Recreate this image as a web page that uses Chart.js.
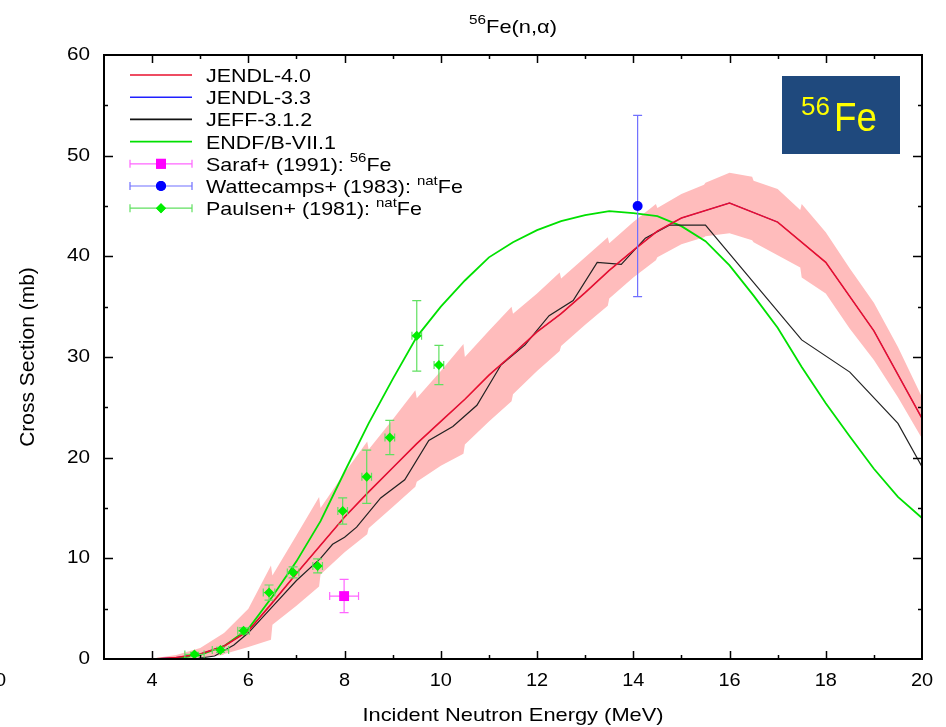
<!DOCTYPE html>
<html>
<head>
<meta charset="utf-8">
<script src="https://cdn.jsdelivr.net/npm/chart.js@4.4.1/dist/chart.umd.min.js"></script>
<style>
  html, body { margin: 0; padding: 0; background: #fff; }
  #wrap { width: 946px; height: 727px; }
</style>
</head>
<body>
<div id="wrap"><canvas id="chart" width="946" height="727"></canvas></div>
<script>
// ---- axis ticks ----
const xTicks = [4, 6, 8, 10, 12, 14, 16, 18, 20];
const yTicks = [0, 10, 20, 30, 40, 50, 60];

// ---- evaluated curves (MeV, mb) ----
const jendl40E = [4.0, 4.5, 5.0, 5.5, 6.0, 6.5, 7.0, 7.5, 8.0, 8.5, 9.0, 9.5, 10.0, 10.5, 11.0, 11.5, 12.0, 12.5, 13.0, 13.5, 14.0, 14.5, 15.0, 16.0, 17.0, 18.0, 19.0, 20.0];
const jendl40 = [0.0, 0.15, 0.5, 1.3, 2.8, 5.6, 8.5, 11.3, 14.1, 16.6, 19.0, 21.4, 23.6, 25.8, 28.2, 30.3, 32.5, 34.3, 36.4, 38.6, 40.6, 42.5, 43.8, 45.3, 43.4, 39.4, 32.6, 23.9];

// JENDL-3.3 lies under JENDL-4.0
const jendl33E = jendl40E;
const jendl33 = jendl40;

// JENDL-4.0 uncertainty band
const bandE = [4.0, 4.5, 5.0, 5.47, 5.5, 6.0, 6.47, 6.5, 7.0, 7.47, 7.5, 8.0, 8.47, 8.5, 9.0, 9.47, 9.5, 10.0, 10.47, 10.5, 11.0, 11.47, 11.5, 12.0, 12.47, 12.5, 13.0, 13.47, 13.5, 14.0, 14.47, 14.5, 15.0, 15.47, 15.5, 16.0, 16.47, 16.5, 17.0, 17.47, 17.5, 18.0, 18.5, 19.0, 19.5, 20.0];
const bandUpper = [0.05, 0.4, 1.1, 2.5, 2.6, 5.0, 9.3, 8.3, 12.3, 16.1, 15.0, 18.5, 21.6, 20.8, 23.8, 26.7, 25.9, 28.6, 31.3, 30.0, 32.6, 35.0, 34.3, 36.3, 38.4, 37.8, 39.9, 41.9, 41.3, 43.4, 45.2, 44.8, 46.2, 47.1, 47.3, 48.3, 47.9, 47.5, 46.7, 44.6, 45.2, 42.4, 38.8, 35.4, 31.0, 26.0];
const bandLower = [0.0, 0.0, 0.15, 0.4, 0.5, 1.2, 1.9, 3.4, 5.3, 7.2, 8.4, 10.6, 12.4, 13.0, 15.1, 17.1, 17.6, 19.2, 20.4, 21.3, 23.6, 25.6, 26.3, 28.6, 30.6, 31.1, 33.2, 35.1, 35.8, 37.9, 39.6, 39.9, 41.2, 41.9, 42.0, 42.3, 41.6, 41.4, 40.1, 38.9, 37.9, 36.3, 32.8, 29.7, 26.0, 21.9];

const jeffE = [4.0, 4.85, 5.3, 5.7, 6.0, 6.5, 7.0, 7.5, 7.75, 8.0, 8.25, 8.75, 9.25, 9.75, 10.25, 10.75, 11.25, 11.75, 12.25, 12.75, 13.25, 13.75, 14.25, 14.75, 15.5, 17.5, 18.5, 19.5, 20.0];
const jeff = [0.0, 0.0, 0.3, 1.4, 2.6, 5.2, 7.8, 10.0, 11.4, 12.1, 13.1, 16.0, 17.8, 21.7, 23.1, 25.2, 29.2, 31.2, 34.1, 35.6, 39.4, 39.2, 41.8, 43.1, 43.1, 31.7, 28.5, 23.4, 19.1];

const endfE = [4.4, 5.0, 5.5, 6.0, 6.5, 7.0, 7.5, 8.0, 8.5, 9.0, 9.5, 10.0, 10.5, 11.0, 11.5, 12.0, 12.5, 13.0, 13.5, 14.0, 14.5, 15.0, 15.5, 16.0, 16.5, 17.0, 17.5, 18.0, 18.5, 19.0, 19.5, 20.0];
const endf = [0.0, 0.4, 1.3, 3.0, 6.2, 9.7, 13.7, 18.6, 23.4, 27.8, 32.0, 35.0, 37.6, 39.9, 41.4, 42.6, 43.5, 44.1, 44.5, 44.3, 44.0, 43.0, 41.5, 39.1, 36.1, 32.9, 29.0, 25.4, 22.1, 18.9, 16.1, 14.0];

// ---- measurements ----
const sarafE = [7.99];
const sarafXS = [6.25];
const sarafDXS = [1.65];
const sarafDE = [0.3];

const wattE = [14.09];
const wattXS = [45.0];
const wattDXS = [9.0];

const paulsenE = [4.88, 5.42, 5.9, 6.43, 6.93, 7.44, 7.96, 8.46, 8.94, 9.5, 9.96];
const paulsenXS = [0.45, 0.9, 2.8, 6.6, 8.6, 9.25, 14.7, 18.1, 22.0, 32.1, 29.2];
const paulsenDXS = [0.2, 0.25, 0.3, 0.75, 0.55, 0.7, 1.3, 2.65, 1.7, 3.5, 1.95];
const paulsenDE = [0.2, 0.17, 0.12, 0.12, 0.12, 0.1, 0.1, 0.1, 0.1, 0.1, 0.1];

const FONT = '"Liberation Sans", Arial, sans-serif';

function pts(xs, ys) {
    return xs.map((v, i) => ({ x: v, y: ys[i] }));
}

// draw text pieces, some as superscripts; sx stretches horizontally
function drawRuns(ctx, runs, x, y, size, sx, doDraw) {
    let cx = x;
    runs.forEach(r => {
        const s = r.sup ? size * 0.7 : size;
        ctx.font = s + 'px ' + FONT;
        const dy = r.sup ? -size * 0.45 : 0;
        if (doDraw) {
            ctx.save();
            ctx.translate(cx, y + dy);
            ctx.scale(sx, 1);
            ctx.fillText(r.t, 0, 0);
            ctx.restore();
        }
        cx += ctx.measureText(r.t).width * sx;
    });
    return cx - x;
}

function stretchText(ctx, str, x, y, font, align, sx) {
    ctx.save();
    ctx.font = font;
    ctx.textAlign = align;
    ctx.translate(x, y);
    ctx.scale(sx, 1);
    ctx.fillText(str, 0, 0);
    ctx.restore();
}

// error bars, drawn just before the markers of the same dataset
const errorBars = {
    id: 'errorBars',
    beforeDatasetDraw(chart, args) {
        const ds = chart.data.datasets[args.index];
        if (!ds.errY) return;
        const ctx = chart.ctx;
        const x = chart.scales.x, y = chart.scales.y;
        ctx.save();
        ctx.strokeStyle = ds.errColor;
        ctx.lineWidth = 1.2;
        ds.data.forEach((p, i) => {
            const px = x.getPixelForValue(p.x);
            const py = y.getPixelForValue(p.y);
            const ey = ds.errY[i];
            const ex = ds.errX ? ds.errX[i] : 0;
            ctx.beginPath();
            if (ey) {
                const t = y.getPixelForValue(p.y + ey);
                const b = y.getPixelForValue(p.y - ey);
                ctx.moveTo(px, t); ctx.lineTo(px, b);
                ctx.moveTo(px - 4.5, t); ctx.lineTo(px + 4.5, t);
                ctx.moveTo(px - 4.5, b); ctx.lineTo(px + 4.5, b);
            }
            if (ex) {
                const l = x.getPixelForValue(p.x - ex);
                const r = x.getPixelForValue(p.x + ex);
                ctx.moveTo(l, py); ctx.lineTo(r, py);
                ctx.moveTo(l, py - 4); ctx.lineTo(l, py + 4);
                ctx.moveTo(r, py - 4); ctx.lineTo(r, py + 4);
            }
            ctx.stroke();
        });
        ctx.restore();
    }
};

// frame, inward ticks, labels, legend, title and the Fe box
const decorations = {
    id: 'decorations',
    afterDraw(chart) {
        const ctx = chart.ctx;
        const x = chart.scales.x, y = chart.scales.y;
        const a = chart.chartArea;

        ctx.save();
        ctx.strokeStyle = '#000';
        ctx.lineWidth = 2;
        ctx.strokeRect(a.left, a.top, a.right - a.left, a.bottom - a.top);

        // ticks
        ctx.lineWidth = 1.5;
        ctx.beginPath();
        for (let v = 4; v < 20; v++) {
            const px = Math.round(x.getPixelForValue(v)) + 0.5;
            const len = v % 2 === 0 ? 8 : 4;
            ctx.moveTo(px, a.bottom); ctx.lineTo(px, a.bottom - len);
            ctx.moveTo(px, a.top); ctx.lineTo(px, a.top + len);
        }
        for (let v = 5; v < 60; v += 5) {
            const py = Math.round(y.getPixelForValue(v)) + 0.5;
            const len = v % 10 === 0 ? 9 : 4;
            ctx.moveTo(a.left, py); ctx.lineTo(a.left + len, py);
            ctx.moveTo(a.right, py); ctx.lineTo(a.right - len, py);
        }
        ctx.stroke();

        // tick labels
        ctx.fillStyle = '#000';
        ctx.textBaseline = 'middle';
        xTicks.forEach(v => {
            stretchText(ctx, String(v), x.getPixelForValue(v), 681, '19px ' + FONT, 'center', 1.05);
        });
        yTicks.forEach(v => {
            stretchText(ctx, String(v), 90, y.getPixelForValue(v), '18px ' + FONT, 'right', 1.15);
        });
        // clipped label at the left edge of the picture
        stretchText(ctx, '0', -5, 681, '19px ' + FONT, 'left', 1.05);

        // axis titles
        stretchText(ctx, 'Incident Neutron Energy (MeV)', (a.left + a.right) / 2, 716, '19px ' + FONT, 'center', 1.15);
        ctx.save();
        ctx.translate(28, 357);
        ctx.rotate(-Math.PI / 2);
        ctx.font = '21px ' + FONT;
        ctx.textAlign = 'center';
        ctx.fillText('Cross Section (mb)', 0, 0);
        ctx.restore();

        // title
        ctx.textBaseline = 'alphabetic';
        const titleRuns = [{ t: '56', sup: true }, { t: 'Fe(n,\u03b1)' }];
        const tw = drawRuns(ctx, titleRuns, 0, 0, 19, 1.15, false);
        drawRuns(ctx, titleRuns, 513 - tw / 2, 33, 19, 1.15, true);

        // legend
        const rows = [
            { kind: 'line', color: '#e8102e', runs: [{ t: 'JENDL-4.0' }] },
            { kind: 'line', color: '#2020ff', runs: [{ t: 'JENDL-3.3' }] },
            { kind: 'line', color: '#111', runs: [{ t: 'JEFF-3.1.2' }] },
            { kind: 'line', color: '#00e000', runs: [{ t: 'ENDF/B-VII.1' }] },
            { kind: 'pt', style: 'rect', r: 7, color: '#ff00ff', bar: '#ff66ff', runs: [{ t: 'Saraf+ (1991): ' }, { t: '56', sup: true }, { t: 'Fe' }] },
            { kind: 'pt', style: 'circle', r: 5, color: '#0000ff', bar: '#7070ff', runs: [{ t: 'Wattecamps+ (1983): ' }, { t: 'nat', sup: true }, { t: 'Fe' }] },
            { kind: 'pt', style: 'rectRot', r: 5, color: '#00ee00', bar: '#60e060', runs: [{ t: 'Paulsen+ (1981): ' }, { t: 'nat', sup: true }, { t: 'Fe' }] }
        ];
        rows.forEach((row, i) => {
            const ry = 75 + i * 22.2;
            if (row.kind === 'line') {
                ctx.strokeStyle = row.color;
                ctx.lineWidth = 1.6;
                ctx.beginPath();
                ctx.moveTo(130, ry); ctx.lineTo(192, ry);
                ctx.stroke();
            } else {
                ctx.strokeStyle = row.bar;
                ctx.lineWidth = 1.2;
                ctx.beginPath();
                ctx.moveTo(130, ry); ctx.lineTo(192, ry);
                ctx.moveTo(130, ry - 4); ctx.lineTo(130, ry + 4);
                ctx.moveTo(192, ry - 4); ctx.lineTo(192, ry + 4);
                ctx.stroke();
                ctx.fillStyle = row.color;
                Chart.helpers.drawPoint(ctx, { pointStyle: row.style, radius: row.r, borderWidth: 0 }, 161, ry);
                ctx.fill();
            }
            ctx.fillStyle = '#000';
            drawRuns(ctx, row.runs, 206, ry + 7, 18.5, 1.16, true);
        });

        // 56Fe label box
        ctx.fillStyle = '#1f497d';
        ctx.fillRect(782, 76, 118, 78);
        ctx.fillStyle = '#ffff00';
        ctx.font = '26px ' + FONT;
        ctx.fillText('56', 801, 115);
        stretchText(ctx, 'Fe', 834, 131, '40px ' + FONT, 'left', 0.92);

        ctx.restore();
    }
};

const datasets = [
    {
        label: 'band-upper', data: pts(bandE, bandUpper), showLine: true,
        borderWidth: 0, pointRadius: 0, fill: '+1', backgroundColor: '#ffbcbc', order: 10
    },
    {
        label: 'band-lower', data: pts(bandE, bandLower), showLine: true,
        borderWidth: 0, pointRadius: 0, fill: false, order: 9
    },
    {
        label: 'ENDF/B-VII.1', data: pts(endfE, endf), showLine: true,
        borderColor: '#00e000', borderWidth: 1.8, pointRadius: 0, order: 6
    },
    {
        label: 'JEFF-3.1.2', data: pts(jeffE, jeff), showLine: true,
        borderColor: '#222', borderWidth: 1.2, pointRadius: 0, order: 5
    },
    {
        label: 'JENDL-3.3', data: pts(jendl33E, jendl33), showLine: true,
        borderColor: '#2020ff', borderWidth: 1.0, pointRadius: 0, order: 4
    },
    {
        label: 'JENDL-4.0', data: pts(jendl40E, jendl40), showLine: true,
        borderColor: '#e8102e', borderWidth: 1.6, pointRadius: 0, order: 3
    },
    {
        label: 'Paulsen+ (1981)', data: pts(paulsenE, paulsenXS), showLine: false,
        pointStyle: 'rectRot', pointRadius: 5, backgroundColor: '#00ee00', borderWidth: 0,
        errY: paulsenDXS, errX: paulsenDE, errColor: '#60e060', order: 2
    },
    {
        label: 'Saraf+ (1991)', data: pts(sarafE, sarafXS), showLine: false,
        pointStyle: 'rect', pointRadius: 7, backgroundColor: '#ff00ff', borderWidth: 0,
        errY: sarafDXS, errX: sarafDE, errColor: '#ff66ff', order: 1
    },
    {
        label: 'Wattecamps+ (1983)', data: pts(wattE, wattXS), showLine: false,
        pointStyle: 'circle', pointRadius: 5, backgroundColor: '#0000ff', borderWidth: 0,
        errY: wattDXS, errColor: '#7070ff', order: 1
    }
];

new Chart(document.getElementById('chart'), {
    type: 'scatter',
    data: { datasets: datasets },
    options: {
        responsive: false,
        animation: false,
        devicePixelRatio: 1,
        layout: { padding: { left: 104, right: 24, top: 55, bottom: 68 } },
        plugins: {
            legend: { display: false },
            tooltip: { enabled: false },
            title: { display: false }
        },
        elements: { line: { tension: 0 } },
        scales: {
            x: { type: 'linear', min: 3, max: 20, display: false },
            y: { type: 'linear', min: 0, max: 60, display: false }
        }
    },
    plugins: [errorBars, decorations]
});
</script>
</body>
</html>
